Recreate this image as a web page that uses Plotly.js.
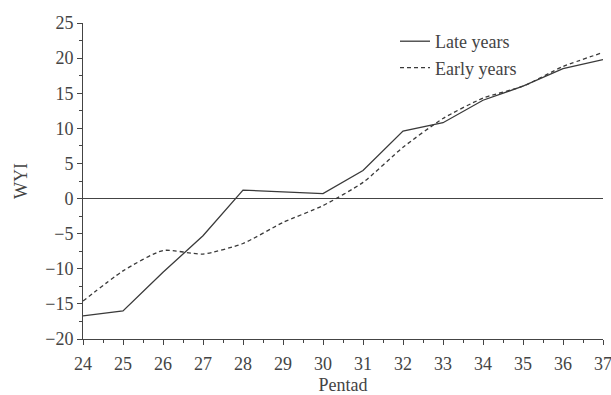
<!DOCTYPE html>
<html>
<head>
<meta charset="utf-8">
<script src="https://cdn.plot.ly/plotly-3.0.1.min.js"></script>
<style>html,body{margin:0;padding:0;background:#fff;}#chart{width:611px;height:395px;}</style>
</head>
<body>
<div id="chart"></div>
<script>
const pentads = [24,25,26,27,28,29,30,31,32,33,34,35,36,37];
const lateYears = [-16.7,-16.0,-10.5,-5.3,1.2,0.9,0.7,4.0,9.6,10.8,14.0,16.0,18.5,19.8];
const earlyYears = [-14.6,-10.3,-7.4,-7.9,-6.4,-3.4,-1.0,2.3,7.3,11.4,14.3,16.0,18.8,20.8];
const yTicks = [-20,-15,-10,-5,0,5,10,15,20,25];

const font = {family: '"Liberation Serif", "Times New Roman", serif', size: 18, color: '#444'};
const lineCol = '#3a3a3a';

const traces = [
  {x: pentads, y: lateYears, name: 'Late years', mode: 'lines',
   line: {color: lineCol, width: 1.3}},
  {x: pentads, y: earlyYears, name: 'Early years', mode: 'lines',
   line: {color: lineCol, width: 1.3, dash: '4px,3px', shape: 'spline', smoothing: 0.6}}
];

const layout = {
  width: 611, height: 395,
  margin: {l: 83, r: 8, t: 23, b: 56},
  paper_bgcolor: '#fff', plot_bgcolor: '#fff',
  font: font,
  showlegend: true,
  legend: {x: 0.6, y: 1.0, xanchor: 'left', yanchor: 'top', bgcolor: 'rgba(0,0,0,0)',
           font: font, tracegroupgap: 0},
  xaxis: {
    range: [24, 37], tickmode: 'linear', tick0: 24, dtick: 1,
    showgrid: false, zeroline: false, showline: true, linecolor: '#444', linewidth: 1,
    ticks: 'outside', ticklen: 5, tickcolor: '#444',
    ticklabeloverflow: 'allow', ticklabelstandoff: 3,
    minor: {dtick: 0.5, tick0: 24, ticks: 'outside', ticklen: 3, tickcolor: '#444', showgrid: false},
    title: {text: 'Pentad', font: font, standoff: 6},
    tickfont: font
  },
  yaxis: {
    range: [-20, 25], tickmode: 'array', tickvals: yTicks,
    showgrid: false, zeroline: true, zerolinecolor: '#444', zerolinewidth: 1,
    showline: true, linecolor: '#444', linewidth: 1,
    ticks: 'outside', ticklen: 5, tickcolor: '#444',
    minor: {dtick: 2.5, tick0: 0, ticks: 'outside', ticklen: 3, tickcolor: '#444', showgrid: false},
    title: {text: 'WYI', font: font, standoff: 12},
    tickfont: font
  }
};

Plotly.newPlot('chart', traces, layout, {displayModeBar: false, staticPlot: true});
</script>
</body>
</html>
